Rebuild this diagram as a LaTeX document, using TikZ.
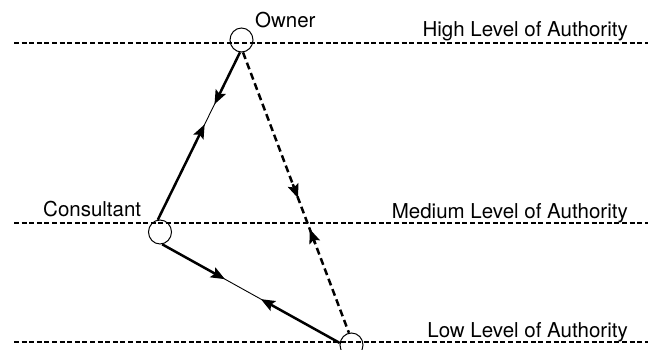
\documentclass[tikz,border=0pt]{standalone}
\usepackage{fontspec}
\setmainfont{TeX Gyre Heros}
\usetikzlibrary{shapes.geometric,arrows.meta}
\tikzset{
  party/.style={ellipse,draw,line width=1pt,minimum width=23pt,minimum height=24pt,inner sep=0pt},
  level/.style={line width=2pt,dash pattern=on 5pt off 2.6pt},
  lbl/.style={inner sep=0pt,font=\fontsize{20.5}{24}\selectfont},
  thickln/.style={line width=2.5pt},
  thinln/.style={line width=0.9pt},
  dashln/.style={line width=2.5pt,dash pattern=on 7pt off 4pt},
  tip/.style={-{Stealth[length=14pt,width=11pt,inset=2.5pt]}},
}
\begin{document}
\begin{tikzpicture}[x=1pt,y=-1pt]
\useasboundingbox (0,0) rectangle (648,350);
\clip (0,0) rectangle (648,350);
% level lines
\coordinate (h0) at (14,43.5); \coordinate (h1) at (648,43.5);
\coordinate (m0) at (14,223); \coordinate (m1) at (648,223);
\coordinate (l0) at (14,342); \coordinate (l1) at (648,342);
\draw[level] (h0) -- (h1);
\draw[level] (m0) -- (m1);
\draw[level] (l0) -- (l1);
% labels
\node[lbl,anchor=base east] (thigh) at (628,37) {High Level of Authority};
\node[lbl,anchor=base east] (tmed) at (628,218) {Medium Level of Authority};
\node[lbl,anchor=base east] (tlow) at (628,337) {Low Level of Authority};
% parties
\node[party] (owner) at (241.5,40) {};
\node[party] (cons) at (160,232) {};
\node[party] (low) at (351.5,345) {};
\node[lbl,anchor=base west] (towner) at (255,28) {Owner};
\node[lbl,anchor=base west] (tcons) at (43,216) {Consultant};
% owner -- consultant
\path (owner.263) -- (cons.100)
  coordinate[pos=0.31] (oc1) coordinate[pos=0.43] (oc2);
\draw[thinln] (owner.263) -- (cons.100);
\draw[thickln,tip] (owner.263) -- (oc1);
\draw[thickln,tip] (cons.100) -- (oc2);
% consultant -- low
\path (cons.280) -- (low.170)
  coordinate[pos=0.354] (cl1) coordinate[pos=0.556] (cl2);
\draw[thinln] (cons.280) -- (low.170);
\draw[thickln,tip] (cons.280) -- (cl1);
\draw[thickln,tip] (low.170) -- (cl2);
% owner -- low dashed
\path (owner.277) -- (low.102)
  coordinate[pos=0.47] (ol1a) coordinate[pos=0.52] (ol1)
  coordinate[pos=0.68] (ol2a) coordinate[pos=0.63] (ol2);
\draw[dashln] (owner.277) -- (low.102);
\draw[thickln,tip] (ol1a) -- (ol1);
\draw[thickln,tip] (ol2a) -- (ol2);
\end{tikzpicture}
\end{document}
